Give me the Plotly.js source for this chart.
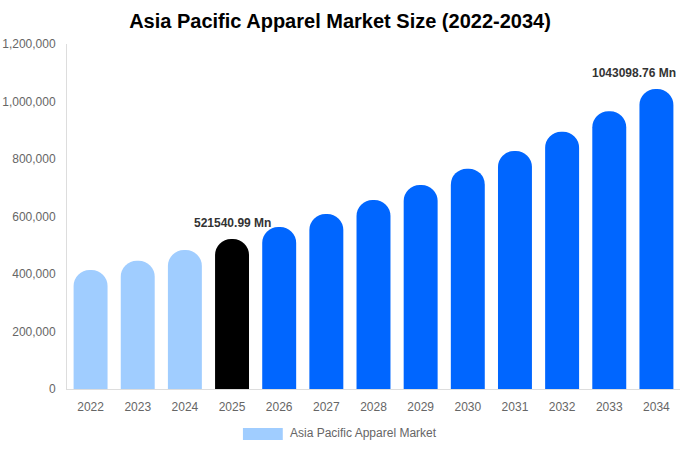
<!DOCTYPE html>
<html>
<head>
<meta charset="utf-8">
<script src="https://cdn.plot.ly/plotly-3.0.1.min.js"></script>
<style>html,body{margin:0;padding:0;background:#fff}#chart{width:680px;height:450px}</style>
</head>
<body>
<div id="chart"></div>
<script>
const years = ['2022','2023','2024','2025','2026','2027','2028','2029','2030','2031','2032','2033','2034'];
const marketSize = [414000, 446000, 483500, 521540.99, 563500, 608500, 657000, 709500, 766500, 828000, 894500, 966000, 1043098.76];
const barColors = ['#a0cdff','#a0cdff','#a0cdff','#000000','#0066ff','#0066ff','#0066ff','#0066ff','#0066ff','#0066ff','#0066ff','#0066ff','#0066ff'];
const labelledYears = ['2025','2034'];
const seriesName = 'Asia Pacific Apparel Market';

const annotations = labelledYears.map(function(y){
  const i = years.indexOf(y);
  const last = (i === years.length - 1);
  return {
    x: i, y: marketSize[i], xref: 'x', yref: 'y',
    text: '<b>' + marketSize[i].toFixed(2) + ' Mn</b>',
    showarrow: false, yanchor: 'bottom', yshift: 7,
    xanchor: last ? 'right' : 'center', xshift: last ? 22 : 0,
    font: {family: 'Liberation Sans, Arial, sans-serif', size: 12, color: '#333333'}
  };
});
annotations.push({
  x: 0.361, y: 0, xref: 'paper', yref: 'paper', xanchor: 'left', yanchor: 'middle',
  yshift: -44,
  text: seriesName, showarrow: false,
  font: {family: 'Liberation Sans, Arial, sans-serif', size: 12, color: '#666666'}
});

const trace = {
  type: 'bar', x: years, y: marketSize, name: seriesName,
  marker: {color: barColors, cornerradius: '50%', line: {width: 0}},
  hoverinfo: 'x+y', showlegend: false
};

const layout = {
  width: 680, height: 450,
  margin: {l: 67, r: 0, t: 44, b: 61},
  paper_bgcolor: '#ffffff', plot_bgcolor: '#ffffff',
  font: {family: 'Liberation Sans, Arial, sans-serif', size: 12, color: '#666666'},
  title: {text: '<b>Asia Pacific Apparel Market Size (2022-2034)</b>', x: 0.5, xanchor: 'center', y: 0.953, yanchor: 'middle',
          font: {family: 'Liberation Sans, Arial, sans-serif', size: 20, color: '#000000'}},
  bargap: 0.28,
  xaxis: {type: 'category', range: [-0.5, years.length - 0.5], showgrid: false, showline: true, linecolor: '#dddddd', linewidth: 1,
          ticks: '', tickfont: {size: 12, color: '#666666'}, ticklabelstandoff: 7, zeroline: false, fixedrange: true},
  yaxis: {range: [0, 1200000], dtick: 200000, tickformat: ',d', showgrid: false, showline: true,
          linecolor: '#dddddd', linewidth: 1, zeroline: false, ticks: '', ticklabelstandoff: 8,
          tickfont: {size: 12, color: '#666666'}, fixedrange: true},
  shapes: [{type: 'rect', xref: 'paper', yref: 'paper', x0: 0.287, x1: 0.352,
            ysizemode: 'pixel', yanchor: 0, y0: -51, y1: -39,
            fillcolor: '#a0cdff', line: {width: 0}}],
  annotations: annotations
};

Plotly.newPlot('chart', [trace], layout, {displayModeBar: false, staticPlot: true});
</script>
</body>
</html>
